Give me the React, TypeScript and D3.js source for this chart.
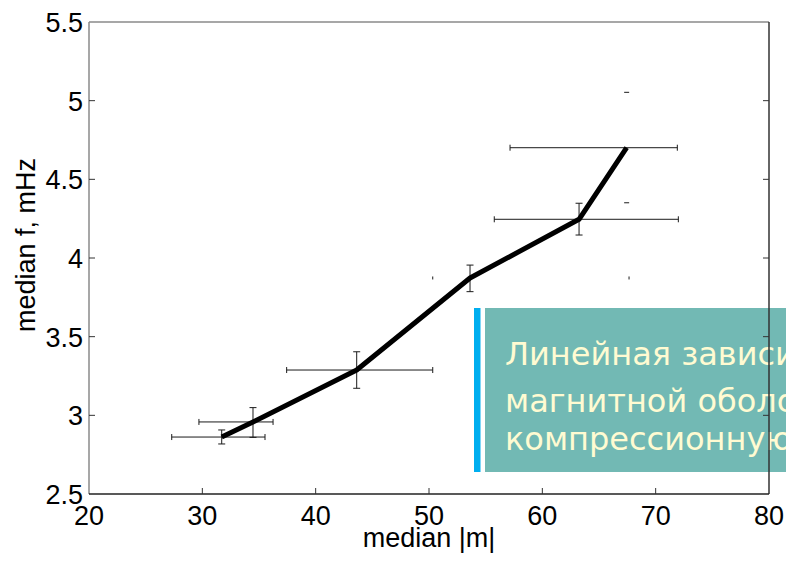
import React from "react";
import * as d3 from "d3";

// Median field magnitude |m| vs. median frequency f (mHz)
const medianM = [31.71, 34.47, 43.62, 53.62, 63.24, 67.44];
const medianF = [2.862, 2.958, 3.288, 3.873, 4.246, 4.701];

// Spread of each point: horizontal (|m|) and vertical (f) ranges
const mLow = [27.3, 29.7, 37.44, 50.33, 55.76, 57.15];
const mHigh = [35.53, 36.24, 50.33, 67.65, 72.0, 71.91];
const fLow = [2.818, 2.86, 3.172, 3.786, 4.146, 4.351];
const fHigh = [2.907, 3.049, 3.404, 3.955, 4.348, 5.053];
// bars whose connecting stem is too faint to show (only end caps remain)
const faintH = [false, false, false, true, false, false];
const faintV = [false, false, false, false, false, true];

const xTicks = [20, 30, 40, 50, 60, 70, 80];
const yTicks = [2.5, 3, 3.5, 4, 4.5, 5, 5.5];
const yTickLabels = ["2.5", "3", "3.5", "4", "4.5", "5", "5.5"];

const noteLines = ["Линейная зависимость", "магнитной оболочки", "компрессионную"];

const W = 786;
const H = 562;
const left = 89;
const right = 769;
const top = 22;
const bottom = 494;

export default function App() {
  const x = d3.scaleLinear().domain([20, 80]).range([left, right]);
  const y = d3.scaleLinear().domain([2.5, 5.5]).range([bottom, top]);
  const line = d3
    .line<number>()
    .x((_, i) => x(medianM[i]))
    .y((_, i) => y(medianF[i]));

  const axisFont = "'Liberation Sans', Arial, sans-serif";
  const cap = 3;

  return (
    <svg
      width={W}
      height={H}
      style={{ position: "absolute", left: 0, top: 0, background: "#fff" }}
    >
      {/* error bars */}
      <g stroke="#1a1a1a" strokeWidth={1} fill="none">
        {medianM.map((m, i) => {
          const cy = y(medianF[i]);
          const cx = x(m);
          const x0 = x(mLow[i]);
          const x1 = x(mHigh[i]);
          const y0 = y(fLow[i]);
          const y1 = y(fHigh[i]);
          const hc = faintH[i] ? 1.5 : cap;
          const vc = faintV[i] ? 2.5 : cap + 0.5;
          return (
            <g key={i}>
              {!faintH[i] && <line x1={x0} x2={x1} y1={cy} y2={cy} />}
              <line x1={x0} x2={x0} y1={cy - hc} y2={cy + hc} />
              <line x1={x1} x2={x1} y1={cy - hc} y2={cy + hc} />
              {!faintV[i] && <line x1={cx} x2={cx} y1={y0} y2={y1} />}
              <line x1={cx - vc} x2={cx + vc} y1={y0} y2={y0} />
              <line x1={cx - vc} x2={cx + vc} y1={y1} y2={y1} />
            </g>
          );
        })}
      </g>

      {/* median curve */}
      <path
        d={line(medianM) || ""}
        fill="none"
        stroke="#000"
        strokeWidth={5}
        strokeLinejoin="round"
      />

      {/* annotation panel */}
      <rect x={474} y={308} width={6.5} height={164} fill="#00aeef" />
      <rect x={485} y={308} width={W - 485} height={164} fill="#72b9b4" />
      <g
        fill="#fffbd2"
        fontFamily="'DejaVu Sans', Tahoma, Verdana, sans-serif"
        fontSize={32}
      >
        <text x={505} y={365}>{noteLines[0]}</text>
        <text x={505} y={412}>{noteLines[1]}</text>
        <text x={505} y={450}>{noteLines[2]}</text>
      </g>

      {/* axes frame */}
      <line x1={left} x2={left} y1={top} y2={bottom} stroke="#8a8a8a" strokeWidth={1.5} />
      <line x1={left} x2={right} y1={top} y2={top} stroke="#8a8a8a" strokeWidth={1.5} />
      <line x1={right} x2={right} y1={top} y2={bottom} stroke="#333" strokeWidth={1.5} />
      <line x1={left} x2={right} y1={bottom} y2={bottom} stroke="#222" strokeWidth={1.5} />

      {/* ticks */}
      <g stroke="#333" strokeWidth={1}>
        {xTicks.slice(1, -1).map((t) => (
          <line key={t} x1={x(t)} x2={x(t)} y1={bottom} y2={bottom - 6} />
        ))}
        {yTicks.slice(1, -1).map((t) => (
          <g key={t}>
            <line x1={left} x2={left + 6} y1={y(t)} y2={y(t)} />
            <line x1={right} x2={right - 6} y1={y(t)} y2={y(t)} />
          </g>
        ))}
      </g>

      {/* tick labels */}
      <g fontFamily={axisFont} fontSize={27} fill="#000">
        {xTicks.map((t) => (
          <text key={t} x={x(t)} y={525} textAnchor="middle">
            {t}
          </text>
        ))}
        {yTicks.map((t, i) => (
          <text key={t} x={83} y={y(t) + 10} textAnchor="end">
            {yTickLabels[i]}
          </text>
        ))}
      </g>

      {/* axis titles */}
      <text
        x={(left + right) / 2}
        y={547}
        textAnchor="middle"
        fontFamily={axisFont}
        fontSize={27}
      >
        median |m|
      </text>
      <text
        transform="translate(35,245) rotate(-90)"
        textAnchor="middle"
        fontFamily={axisFont}
        fontSize={27}
      >
        median f, mHz
      </text>
    </svg>
  );
}
